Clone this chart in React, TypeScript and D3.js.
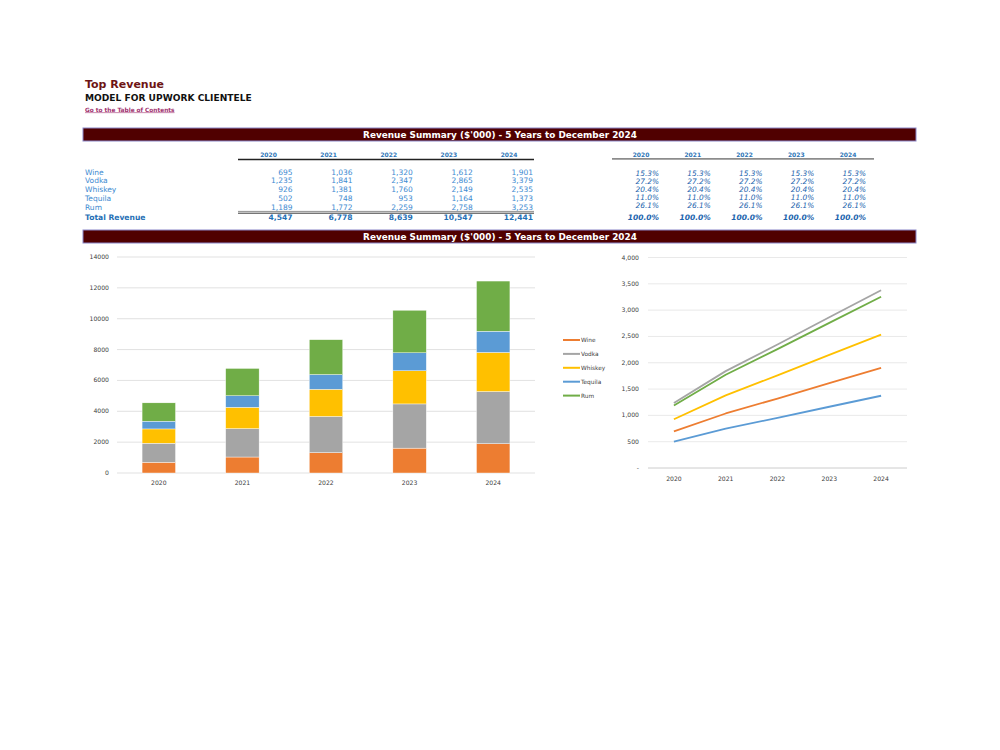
import React from 'react';
import * as d3 from 'd3';

const years = ['2020', '2021', '2022', '2023', '2024'];
const categories = ['Wine', 'Vodka', 'Whiskey', 'Tequila', 'Rum'];
const wine = [695, 1036, 1320, 1612, 1901];
const vodka = [1235, 1841, 2347, 2865, 3379];
const whiskey = [926, 1381, 1760, 2149, 2535];
const tequila = [502, 748, 953, 1164, 1373];
const rum = [1189, 1772, 2259, 2758, 3253];
const totals = [4547, 6778, 8639, 10547, 12441];
const shares = [15.3, 27.2, 20.4, 11.0, 26.1];
const barTicks = [0, 2000, 4000, 6000, 8000, 10000, 12000, 14000];
const lineTicks = [0, 500, 1000, 1500, 2000, 2500, 3000, 3500, 4000];

const series = [wine, vodka, whiskey, tequila, rum];
const colors = ['#ED7D31', '#A5A5A5', '#FFC000', '#5B9BD5', '#70AD47'];

const FONT = '"DejaVu Sans", Verdana, sans-serif';
const fmt = d3.format(',');

const App: React.FC = () => {
  // stacked bar chart scales
  const bx = d3.scaleBand().domain(years).range([117, 535]).paddingInner(0.6).paddingOuter(0.3);
  const by = d3.scaleLinear().domain([0, 14000]).range([473, 257]);
  const rows = years.map((y, i) => {
    const r: any = { year: y };
    categories.forEach((c, k) => (r[c] = series[k][i]));
    return r;
  });
  const stacked = d3.stack<any>().keys(categories)(rows);

  // line chart scales
  const lx = d3.scaleBand().domain(years).range([648, 907]);
  const ly = d3.scaleLinear().domain([0, 4000]).range([468, 257.5]);
  const line = d3.line<number>()
    .x((_, i) => lx(years[i])! + lx.bandwidth() / 2)
    .y(d => ly(d));

  // table columns
  const valRight = d3.scaleLinear().domain([0, 4]).range([292.5, 533]);
  const pctRight = d3.scaleLinear().domain([0, 4]).range([659, 866]);
  const rowY = [174.8, 183.2, 191.8, 200.6, 209.6];
  const pctY = [175.8, 183.6, 191.6, 199.6, 207.8];

  const banner = (y: number) => (
    <g>
      <rect x={83} y={y} width={833} height={13} fill="#500000" stroke="#8a86c8" strokeWidth={1} />
      <text x={500} y={y + 10} textAnchor="middle" fill="#fff" fontWeight="bold" fontSize={8.9}>
        Revenue Summary ($'000) - 5 Years to December 2024
      </text>
    </g>
  );

  return (
    <div style={{ position: 'absolute', left: 0, top: 0 }}>
      <svg width={1000} height={750} style={{ display: 'block', background: '#fff' }} fontFamily={FONT}>
        {/* heading */}
        <text x={85} y={88} fontSize={11} fontWeight="bold" fill="#6e1414">Top Revenue</text>
        <text x={85} y={100.5} fontSize={9.1} fontWeight="bold" fill="#111">MODEL FOR UPWORK CLIENTELE</text>
        <text x={85} y={111.5} fontSize={5.8} fontWeight="bold" fill="#a0306e" textDecoration="underline">
          Go to the Table of Contents
        </text>

        {banner(128)}

        {/* left table */}
        {years.map((y, i) => (
          <text key={y} x={valRight(i) - 24} y={157} fontSize={6} fontWeight="bold" fill="#2e75b6" textAnchor="middle">{y}</text>
        ))}
        <line x1={238} x2={534} y1={159.5} y2={159.5} stroke="#222" strokeWidth={1.4} />
        {categories.map((c, k) => (
          <g key={c}>
            <text x={85} y={rowY[k]} fontSize={7.5} fill="#3d8ad1">{c}</text>
            {series[k].map((v, i) => (
              <text key={i} x={valRight(i)} y={rowY[k]} fontSize={7.5} fill="#3d8ad1" textAnchor="end">{fmt(v)}</text>
            ))}
          </g>
        ))}
        <line x1={238} x2={534} y1={211.4} y2={211.4} stroke="#444" strokeWidth={0.6} />
        <line x1={238} x2={534} y1={213.2} y2={213.2} stroke="#222" strokeWidth={0.9} />
        <text x={85} y={220.2} fontSize={7.6} fontWeight="bold" fill="#1f6fb5">Total Revenue</text>
        {totals.map((v, i) => (
          <text key={i} x={valRight(i)} y={220.2} fontSize={7.6} fontWeight="bold" fill="#1f6fb5" textAnchor="end">{fmt(v)}</text>
        ))}

        {/* right table */}
        {years.map((y, i) => (
          <text key={y} x={pctRight(i) - 18} y={157} fontSize={6} fontWeight="bold" fill="#2e75b6" textAnchor="middle" textDecoration="underline">{y}</text>
        ))}
        <line x1={612} x2={874} y1={158.8} y2={158.8} stroke="#8c8c8c" strokeWidth={1.8} />
        {shares.map((s, k) => years.map((_, i) => (
          <text key={`${k}-${i}`} x={pctRight(i)} y={pctY[k]} fontSize={7.4} fontStyle="italic" fill="#1b63ad" textAnchor="end">{s.toFixed(1)}%</text>
        )))}
        {years.map((_, i) => (
          <text key={i} x={pctRight(i)} y={219.5} fontSize={7.5} fontStyle="italic" fontWeight="bold" fill="#1b63ad" textAnchor="end">100.0%</text>
        ))}

        {banner(230)}

        {/* stacked bar chart */}
        {barTicks.map(t => (
          <g key={t}>
            <line x1={117} x2={535} y1={by(t)} y2={by(t)} stroke="#d9d9d9" strokeWidth={0.8} />
            <text x={109} y={by(t) + 2} fontSize={6.1} fill="#404040" textAnchor="end">{t}</text>
          </g>
        ))}
        {stacked.map((layer, k) => (
          <g key={layer.key} fill={colors[k]}>
            {layer.map((d, i) => (
              <rect key={i} x={bx(years[i])} y={by(d[1])} width={bx.bandwidth()} height={by(d[0]) - by(d[1])}
                stroke="#fff" strokeWidth={0.4} />
            ))}
          </g>
        ))}
        {years.map(y => (
          <text key={y} x={bx(y)! + bx.bandwidth() / 2} y={484.5} fontSize={6.1} fill="#404040" textAnchor="middle">{y}</text>
        ))}

        {/* legend */}
        {categories.map((c, k) => (
          <g key={c} transform={`translate(563,${340 + k * 13.9})`}>
            <line x1={0} x2={17} y1={0} y2={0} stroke={colors[k]} strokeWidth={2} />
            <text x={18} y={2} fontSize={5.8} fill="#404040">{c}</text>
          </g>
        ))}

        {/* line chart */}
        {lineTicks.map(t => (
          <g key={t}>
            <line x1={648} x2={907} y1={ly(t)} y2={ly(t)} stroke={t === 0 ? '#bfbfbf' : '#e3e3e3'} strokeWidth={0.8} />
            <text x={639} y={ly(t) + 2} fontSize={6.1} fill="#404040" textAnchor="end">{t === 0 ? '-' : fmt(t)}</text>
          </g>
        ))}
        {series.map((s, k) => (
          <path key={k} d={line(s) || ''} fill="none" stroke={colors[k]} strokeWidth={1.8} strokeLinejoin="round" />
        ))}
        {years.map(y => (
          <text key={y} x={lx(y)! + lx.bandwidth() / 2} y={481} fontSize={6.1} fill="#404040" textAnchor="middle">{y}</text>
        ))}
      </svg>
    </div>
  );
};

export default App;
